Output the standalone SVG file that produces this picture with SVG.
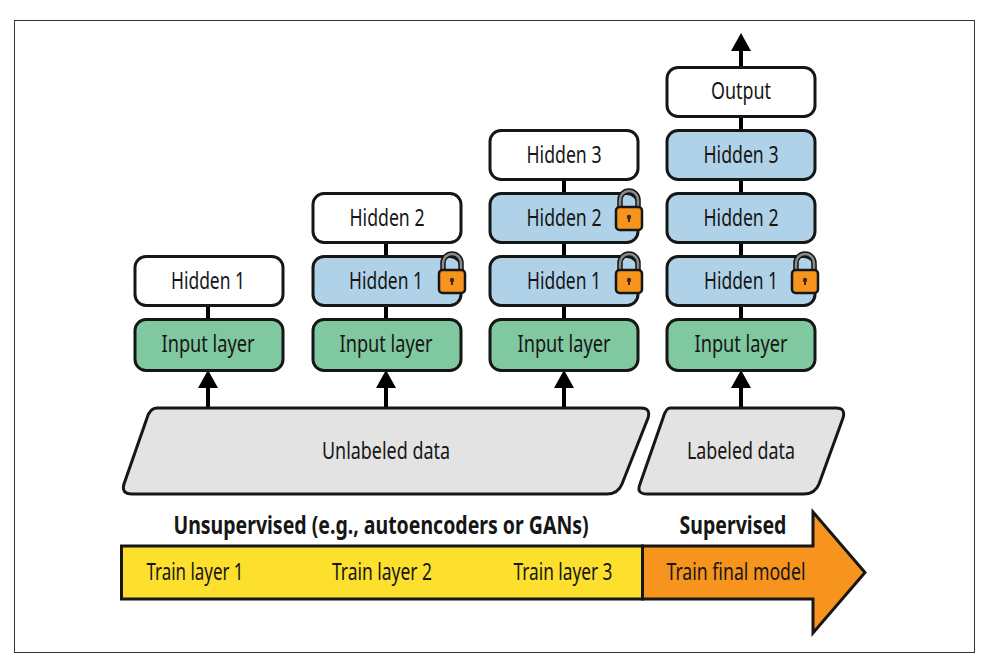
<svg xmlns="http://www.w3.org/2000/svg" width="989" height="658" viewBox="0 0 989 658">
<style>
text{font-family:"Noto Sans","Liberation Sans",sans-serif;font-size:23px;fill:#161616;text-anchor:middle}
.b{font-weight:700;font-size:25px}
.box{stroke:#161616;stroke-width:3px}
.w{fill:#fff}.h{fill:#b0d2e8}.i{fill:#80c8a0}.d{fill:#e3e3e3}
.c{stroke:#000;stroke-width:4px;fill:none}
.ah{fill:#000}
</style>
<defs>
<g id="lock">
<path d="M-9 -9V-17A9 9 0 0 1 9 -17V-9" fill="none" stroke="#161616" stroke-width="5.500"/>
<path d="M-9 -9V-17A9 9 0 0 1 9 -17V-9" fill="none" stroke="#8a8c8e" stroke-width="2.500"/>
<rect x="-13" y="-10" width="26" height="23" rx="3.500" fill="#f7941e" stroke="#161616" stroke-width="2.500"/>
<circle cx="0" cy="0" r="2.200" fill="#3a2a10"/><rect x="-1" y="0" width="2" height="5" fill="#3a2a10"/>
</g>
</defs>
<rect x="14.500" y="20.500" width="960" height="632" fill="#fff" stroke="#333" stroke-width="1"/>
<g id="connectors">
<path class="c" d="M208 407V385M386 407V385M564 407V385M741 407V385"/>
<path class="ah" d="M208 370l10 18h-20zM386 370l10 18h-20zM564 370l10 18h-20zM741 370l10 18h-20z"/>
<path class="c" d="M208 306V319M386 243V319M564 180V319M741 50V319"/>
<path class="ah" d="M741 33l10 18h-20z"/>
</g>
<g id="col1-input"><rect class="box i" x="135" y="319.500" width="148" height="51" rx="11"/><text x="208" y="352" textLength="93" lengthAdjust="spacingAndGlyphs">Input layer</text></g>
<g id="col1-hidden1"><rect class="box w" x="135" y="256.500" width="148" height="49" rx="11"/><text x="208" y="289" textLength="74" lengthAdjust="spacingAndGlyphs">Hidden 1</text></g>
<g id="col2-input"><rect class="box i" x="313" y="319.500" width="148" height="51" rx="11"/><text x="386" y="352" textLength="93" lengthAdjust="spacingAndGlyphs">Input layer</text></g>
<g id="col2-hidden1"><rect class="box h" x="313" y="256.500" width="148" height="49" rx="11"/><text x="386" y="289" textLength="74" lengthAdjust="spacingAndGlyphs">Hidden 1</text><use href="#lock" x="452" y="280"/></g>
<g id="col2-hidden2"><rect class="box w" x="313" y="193.500" width="148" height="49" rx="11"/><text x="387" y="226" textLength="75" lengthAdjust="spacingAndGlyphs">Hidden 2</text></g>
<g id="col3-input"><rect class="box i" x="490" y="319.500" width="148" height="51" rx="11"/><text x="564" y="352" textLength="93" lengthAdjust="spacingAndGlyphs">Input layer</text></g>
<g id="col3-hidden1"><rect class="box h" x="490" y="256.500" width="148" height="49" rx="11"/><text x="564" y="289" textLength="74" lengthAdjust="spacingAndGlyphs">Hidden 1</text><use href="#lock" x="629" y="280"/></g>
<g id="col3-hidden2"><rect class="box h" x="490" y="193.500" width="148" height="49" rx="11"/><text x="564" y="226" textLength="75" lengthAdjust="spacingAndGlyphs">Hidden 2</text><use href="#lock" x="629" y="217"/></g>
<g id="col3-hidden3"><rect class="box w" x="490" y="130.500" width="148" height="49" rx="11"/><text x="564" y="163" textLength="75" lengthAdjust="spacingAndGlyphs">Hidden 3</text></g>
<g id="col4-input"><rect class="box i" x="667" y="319.500" width="148" height="51" rx="11"/><text x="741" y="352" textLength="93" lengthAdjust="spacingAndGlyphs">Input layer</text></g>
<g id="col4-hidden1"><rect class="box h" x="667" y="256.500" width="148" height="49" rx="11"/><text x="741" y="289" textLength="74" lengthAdjust="spacingAndGlyphs">Hidden 1</text><use href="#lock" x="805" y="280"/></g>
<g id="col4-hidden2"><rect class="box h" x="667" y="193.500" width="148" height="49" rx="11"/><text x="741" y="226" textLength="75" lengthAdjust="spacingAndGlyphs">Hidden 2</text></g>
<g id="col4-hidden3"><rect class="box h" x="667" y="130.500" width="148" height="49" rx="11"/><text x="741" y="163" textLength="75" lengthAdjust="spacingAndGlyphs">Hidden 3</text></g>
<g id="col4-output"><rect class="box w" x="667" y="67.500" width="148" height="49" rx="11"/><text x="741" y="99" textLength="60" lengthAdjust="spacingAndGlyphs">Output</text></g>
<g id="unlabeled"><path class="box d" d="M157 408H641Q651 408 648 418L622 484Q618 494 607 494H132Q121 494 124 484L147 418Q150 408 157 408Z"/><text x="386" y="459" textLength="128" lengthAdjust="spacingAndGlyphs">Unlabeled data</text></g>
<g id="labeled"><path class="box d" d="M670 408H836Q846 408 843 418L819 484Q815 494 804 494H647Q636 494 640 484L663 418Q666 408 670 408Z"/><text x="741" y="459" textLength="108" lengthAdjust="spacingAndGlyphs">Labeled data</text></g>
<g id="title-unsupervised"><text class="b" transform="translate(381 534) scale(.78 1)">Unsupervised (e.g., autoencoders or GANs)</text></g>
<g id="title-supervised"><text class="b" transform="translate(733 534) scale(.78 1)">Supervised</text></g>
<g id="bar-yellow"><rect x="121.500" y="546" width="521" height="53" fill="#fddf2d" stroke="#161616" stroke-width="3"/>
<text x="195" y="580" textLength="97" lengthAdjust="spacingAndGlyphs">Train layer 1</text><text x="382" y="580" textLength="100" lengthAdjust="spacingAndGlyphs">Train layer 2</text><text x="563" y="580" textLength="99" lengthAdjust="spacingAndGlyphs">Train layer 3</text></g>
<g id="bar-orange"><path d="M642.500 546H813V512L865 572.500L813 633V599H642.500Z" fill="#f7941e" stroke="#161616" stroke-width="3"/>
<text x="736" y="580" textLength="139" lengthAdjust="spacingAndGlyphs">Train final model</text></g>
</svg>
